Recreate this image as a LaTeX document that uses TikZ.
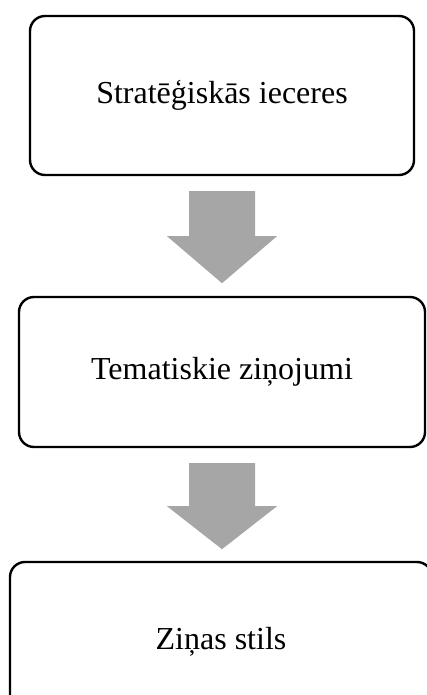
\documentclass[tikz,border=0pt]{standalone}
\usepackage{fontspec}
\setmainfont{Liberation Serif}
\usetikzlibrary{calc}
\definecolor{arrowgray}{RGB}{166,166,166}
\tikzset{
  stagebox/.style={draw=black,line width=2.4pt,rounded corners=15pt,fill=white,
    inner sep=0pt,font=\fontsize{32}{38}\selectfont},
  blockarrow/.style={fill=arrowgray,draw=none}
}
\begin{document}
\begin{tikzpicture}[line cap=round,line join=round,x=1pt,y=-1pt]
	\clip (0,0) rectangle (427,695);
	\useasboundingbox (0,0) rectangle (427,695);
	% stages
	\node[stagebox,minimum width=384pt,minimum height=159pt] (ieceres) at (222,95.5) {Stratēģiskās ieceres};
	\node[stagebox,minimum width=406pt,minimum height=150pt] (zinojumi) at (222,372) {Tematiskie ziņojumi};
	\node[stagebox,minimum width=422pt,minimum height=159pt] (stils) at (221,641.5) {Ziņas stils};
	% block arrows
	\fill[blockarrow] ($(ieceres.south)+(-33,15)$) -- ++(0,45) -- ++(-22,0) -- ++(55,47) -- ++(55,-47) -- ++(-22,0) -- ++(0,-45) -- cycle;
	\fill[blockarrow] ($(zinojumi.south)+(-33,15)$) -- ++(0,43) -- ++(-22,0) -- ++(55,43) -- ++(55,-43) -- ++(-22,0) -- ++(0,-43) -- cycle;
\end{tikzpicture}
\end{document}
